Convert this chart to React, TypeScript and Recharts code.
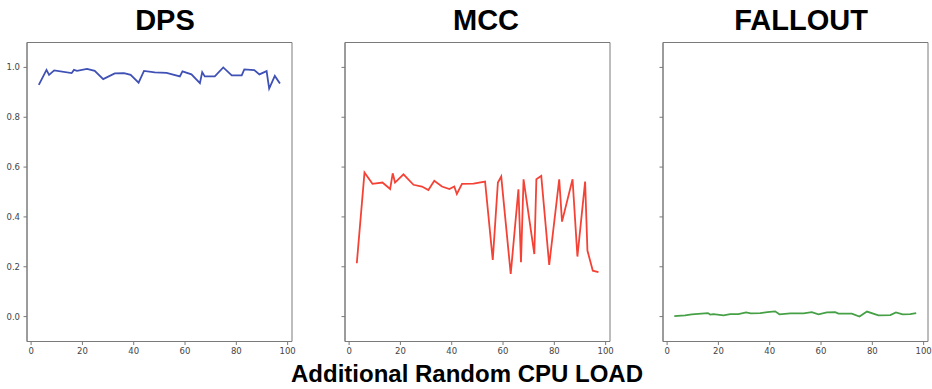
import { LineChart, Line, XAxis, YAxis, ReferenceArea } from "recharts";

// x positions = additional random CPU load, y = score
const dpsX = [3, 6, 7, 9, 15.8, 16.7, 17.9, 21.8, 24.8, 28.1, 32.6, 36.2, 38.8, 41.9, 44, 48.2, 52.8, 58, 59, 62.5, 65.8, 66.7, 67.7, 71.6, 74.9, 78.2, 82.1, 83.1, 87, 89, 91.8, 92.8, 95, 97];
const dpsY = [0.93, 0.99, 0.97, 0.988, 0.977, 0.99, 0.986, 0.994, 0.986, 0.953, 0.976, 0.977, 0.97, 0.939, 0.986, 0.98, 0.978, 0.964, 0.984, 0.972, 0.937, 0.981, 0.964, 0.964, 1.0, 0.968, 0.968, 0.992, 0.989, 0.972, 0.985, 0.915, 0.966, 0.935];

const mccX = [3, 6, 9.1, 13, 16, 17, 17.9, 21.2, 25.1, 28.4, 30.9, 33.2, 36.2, 39.1, 41, 42, 44, 48.5, 53, 56, 58, 59.3, 63, 66, 67, 68, 72.2, 73, 74.9, 78, 81.9, 83, 87.1, 89, 92, 92.9, 95, 97.2];
const mccY = [0.214, 0.578, 0.533, 0.538, 0.512, 0.575, 0.538, 0.571, 0.529, 0.522, 0.508, 0.545, 0.522, 0.512, 0.522, 0.492, 0.533, 0.534, 0.542, 0.227, 0.538, 0.562, 0.171, 0.511, 0.218, 0.551, 0.251, 0.551, 0.565, 0.207, 0.551, 0.381, 0.551, 0.241, 0.542, 0.265, 0.184, 0.178];

const falloutX = [2.8, 7, 9.6, 15.9, 16.8, 18.1, 22, 24.6, 27.8, 30.8, 32.6, 36.3, 39.1, 42.1, 43.8, 48, 53.2, 56.4, 59, 62.3, 65.5, 66.8, 72, 75, 77.9, 82.4, 87, 89.2, 91.8, 94.8, 97.1];
const falloutY = [0.002, 0.005, 0.009, 0.014, 0.008, 0.01, 0.005, 0.01, 0.01, 0.017, 0.013, 0.014, 0.018, 0.021, 0.009, 0.013, 0.013, 0.018, 0.009, 0.017, 0.018, 0.012, 0.012, 0.0, 0.02, 0.005, 0.006, 0.017, 0.009, 0.01, 0.014];

const xTicks = [0, 20, 40, 60, 80, 100];
const yTicks = [0, 0.2, 0.4, 0.6, 0.8, 1.0];
const X_DOMAIN: [number, number] = [-1.6, 101.7];
const Y_DOMAIN: [number, number] = [-0.1, 1.1];

const toRows = (xs: number[], ys: number[]) => xs.map((x, i) => ({ x, y: ys[i] }));

const panels = [
  { title: "DPS", rows: toRows(dpsX, dpsY), color: "#3f51b5", left: 27, showY: true, titleX: 165 },
  { title: "MCC", rows: toRows(mccX, mccY), color: "#f44336", left: 345, showY: false, titleX: 486 },
  { title: "FALLOUT", rows: toRows(falloutX, falloutY), color: "#46a046", left: 663, showY: false, titleX: 801 },
];

const AXIS_W = 30;
const PLOT_W = 265;
const FRAME = "#7a7a7a";
const tickStyle = { fontFamily: "DejaVu Sans", fontSize: 8.5, fill: "#444" };

function Panel({ p }: { p: (typeof panels)[number] }) {
  return (
    <div style={{ position: "absolute", left: p.left - AXIS_W, top: 0 }}>
      <LineChart
        width={AXIS_W + PLOT_W + 6}
        height={389}
        data={p.rows}
        margin={{ top: 42.5, right: 6, bottom: 27.5, left: 0 }}
      >
        <XAxis
          type="number"
          dataKey="x"
          domain={X_DOMAIN}
          ticks={xTicks}
          allowDataOverflow
          height={20}
          tickSize={3.5}
          tickMargin={3}
          axisLine={{ stroke: FRAME }}
          tickLine={{ stroke: FRAME }}
          tick={tickStyle}
        />
        <YAxis
          type="number"
          dataKey="y"
          domain={Y_DOMAIN}
          ticks={yTicks}
          allowDataOverflow
          width={AXIS_W}
          tickSize={3.5}
          tickMargin={3.5}
          axisLine={{ stroke: FRAME }}
          tickLine={{ stroke: FRAME }}
          tick={tickStyle}
          tickFormatter={(v: number) => (p.showY ? v.toFixed(1) : "")}
        />
        <ReferenceArea
          x1={X_DOMAIN[0]}
          x2={X_DOMAIN[1]}
          y1={Y_DOMAIN[0]}
          y2={Y_DOMAIN[1]}
          fill="none"
          stroke={FRAME}
          strokeWidth={1}
          fillOpacity={0}
        />
        <Line
          type="linear"
          dataKey="y"
          stroke={p.color}
          strokeWidth={1.8}
          dot={false}
          isAnimationActive={false}
        />
      </LineChart>
    </div>
  );
}

export default function App() {
  return (
    <div style={{ position: "absolute", left: 0, top: 0, width: 932, height: 389, background: "#fff" }}>
      {panels.map((p) => (
        <Panel key={p.title} p={p} />
      ))}
      <svg
        width={932}
        height={389}
        style={{ position: "absolute", left: 0, top: 0, pointerEvents: "none" }}
      >
        {panels.map((p) => (
          <text
            key={p.title}
            x={p.titleX}
            y={30}
            textAnchor="middle"
            fontFamily="Liberation Sans, Arial, sans-serif"
            fontWeight="bold"
            fontSize={29}
            fill="#000"
          >
            {p.title}
          </text>
        ))}
        <text
          x={467}
          y={382}
          textAnchor="middle"
          fontFamily="Liberation Sans, Arial, sans-serif"
          fontWeight="bold"
          fontSize={24}
          fill="#000"
        >
          Additional Random CPU LOAD
        </text>
      </svg>
    </div>
  );
}
